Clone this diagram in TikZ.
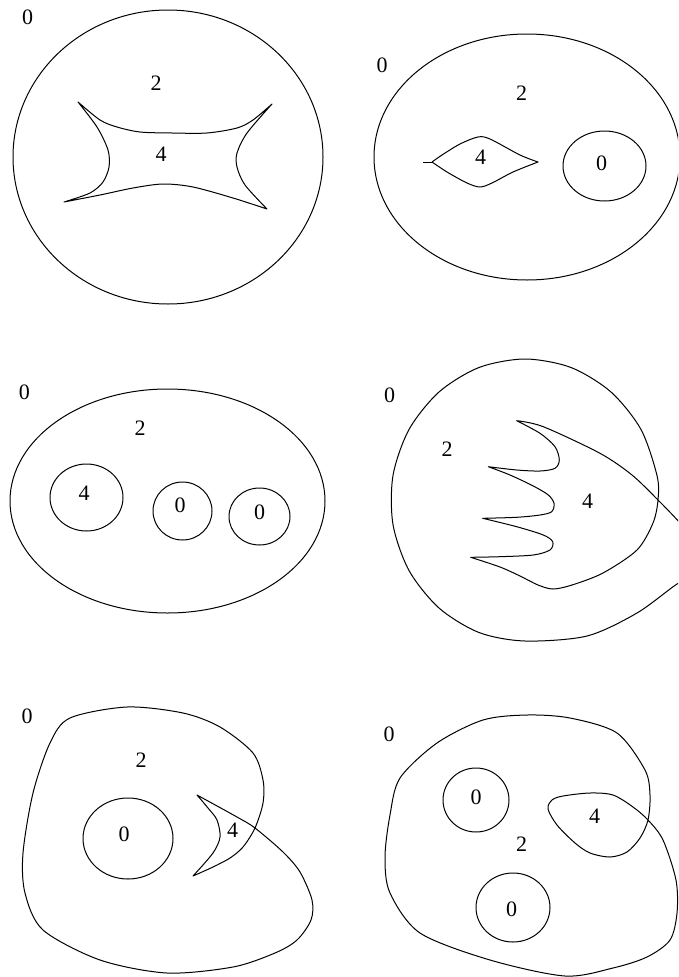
\documentclass[tikz,border=0pt]{standalone}
\usepackage{fontspec}
\setmainfont{Liberation Serif}
\begin{document}
\begin{tikzpicture}[x=1pt,y=-1pt,
  curve/.style={draw=black, line width=1pt, line join=round},
  lbl/.style={inner sep=0pt, font=\fontsize{22}{26}\selectfont}]
\useasboundingbox (0,0) rectangle (678,977);
\clip (0,0) rectangle (678,977);

% ---------- Panel 1 ----------
\draw[curve] (168,157) ellipse [x radius=155pt, y radius=147pt];
\draw[curve] plot[smooth] coordinates {(78,102)(100,120)(117,127)(140,132)(172,133)(207,133)(237,128)(253,120)(272,104)}
  -- plot[smooth] coordinates {(272,104)(247,133)(237,153)(237,167)(245,185)(267,209)}
  -- plot[smooth] coordinates {(267,209)(233,198)(193,187)(163,184)(133,188)(100,195)(64,202)}
  -- plot[smooth] coordinates {(64,202)(90,193)(103,182)(109,167)(108,150)(97,127)(78,102)} -- cycle;
\node[lbl] (p1o) at (27.5,17.5) {0};
\node[lbl] (p1t) at (156,83) {2};
\node[lbl] (p1f) at (161,154.5) {4};

% ---------- Panel 2 ----------
\draw[curve] (527,157) ellipse [x radius=153pt, y radius=123pt];
\draw[curve] (604.5,166) ellipse [x radius=41.5pt, y radius=35pt];
\draw[curve] (423,162) -- (432,162);
\draw[curve] plot[smooth] coordinates {(432,162)(442,155)(460,144)(478,137)(490,139)(520,155)(538,162)}
  -- plot[smooth] coordinates {(538,162)(513,172)(492,183)(480,187)(467,183)(447,172)(432,162)};
\node[lbl] (p2o) at (382,65) {0};
\node[lbl] (p2t) at (521.5,93) {2};
\node[lbl] (p2f) at (480.5,157.5) {4};
\node[lbl] (p2z) at (601.5,163) {0};

% ---------- Panel 3 ----------
\draw[curve] (167.5,501) ellipse [x radius=157.5pt, y radius=112pt];
\draw[curve] (86.5,497.5) ellipse [x radius=36.5pt, y radius=33.5pt];
\draw[curve] (182.5,511) ellipse [x radius=29.5pt, y radius=29pt];
\draw[curve] (259.5,516.5) ellipse [x radius=30.5pt, y radius=28.5pt];
\node[lbl] (p3o) at (24.5,392.5) {0};
\node[lbl] (p3t) at (140,428) {2};
\node[lbl] (p3f) at (84,493) {4};
\node[lbl] (p3a) at (180,505) {0};
\node[lbl] (p3b) at (259.5,512) {0};

% ---------- Panel 4 ----------
\draw[curve] plot[smooth] coordinates {(516.7,420.7)(543.3,426.7)(600,453.3)(632,475)(658,500)(680,523)(700,548)(700,572)(677,584)(637,613)(587,636)(525,641)(479,632.5)(439,608)(409,570.5)(393,524.5)(393,475.5)(409,429.5)(439,392)(479,367.5)(525,359)(571,367.5)(611,392)(641,429.5)(657,475.5)(658,500)(653,523)(637,550)(603,573)(572,585)(553,589)(538,585)(520,576)(500,567)(470.7,557.3)}
  -- plot[smooth] coordinates {(470.7,557.3)(500,556.7)(533.3,555)(550,550)(552.7,541.7)(543.3,535)(516.7,526.7)(482.7,518.3)}
  -- plot[smooth] coordinates {(482.7,518.3)(516.7,517.3)(540,515)(551.7,511.7)(554,503.3)(548.3,495)(533.3,486)(510,475)(488.3,466.7)}
  -- plot[smooth] coordinates {(488.3,466.7)(516.7,470)(540,471)(555,468.3)(559.3,460)(555,446.7)(540,433.3)(516.7,420.7)} -- cycle;
\node[lbl] (p4o) at (389.5,395) {0};
\node[lbl] (p4t) at (447,449.5) {2};
\node[lbl] (p4f) at (587.5,501.5) {4};

% ---------- Panel 5 ----------
\draw[curve] plot[smooth] coordinates {(197,795)(237,817)(255,828)(283,852)(300,872)(312,900)(311,920)(297,940)(275,953)(233,967)(167,973)(100,960)(43,930)(25,893)(23,853)(33,793)(50,743)(70,718)(127,707)(183,713)(220,727)(253,753)(263,780)(263,803)(255,828)(243,847)(230,858)(213,867)(193,876)}
  -- plot[smooth] coordinates {(193,876)(213,853)(220,837)(217,820)(208,808)(197,795)} -- cycle;
\draw[curve] (128,838.5) ellipse [x radius=45pt, y radius=40.5pt];
\node[lbl] (p5o) at (27,716.5) {0};
\node[lbl] (p5t) at (141,760.5) {2};
\node[lbl] (p5z) at (124,834) {0};
\node[lbl] (p5f) at (232.5,830.5) {4};

% ---------- Panel 6 ----------
\draw[curve] plot[smooth cycle] coordinates {(527,715)(570,718)(617,733)(645,770)(650,795)(648,820)(640,838)(627,852)(610,857)(590,853)(575,843)(557,825)(548,809)(552,800)(563,796)(590,793)(613,795)(633,807)(648,820)(663,840)(676,880)(677,913)(670,940)(647,957)(613,968)(565,976)(490,960)(420,933)(390,893)(385,857)(390,815)(400,778)(437,743)(483,720)};
\draw[curve] (476,800) ellipse [x radius=33pt, y radius=32pt];
\draw[curve] (513,907.5) ellipse [x radius=37pt, y radius=34.5pt];
\node[lbl] (p6o) at (389,734) {0};
\node[lbl] (p6a) at (476,797.5) {0};
\node[lbl] (p6t) at (521.5,844.5) {2};
\node[lbl] (p6b) at (511.5,909.5) {0};
\node[lbl] (p6f) at (594.5,816) {4};
\end{tikzpicture}
\end{document}
